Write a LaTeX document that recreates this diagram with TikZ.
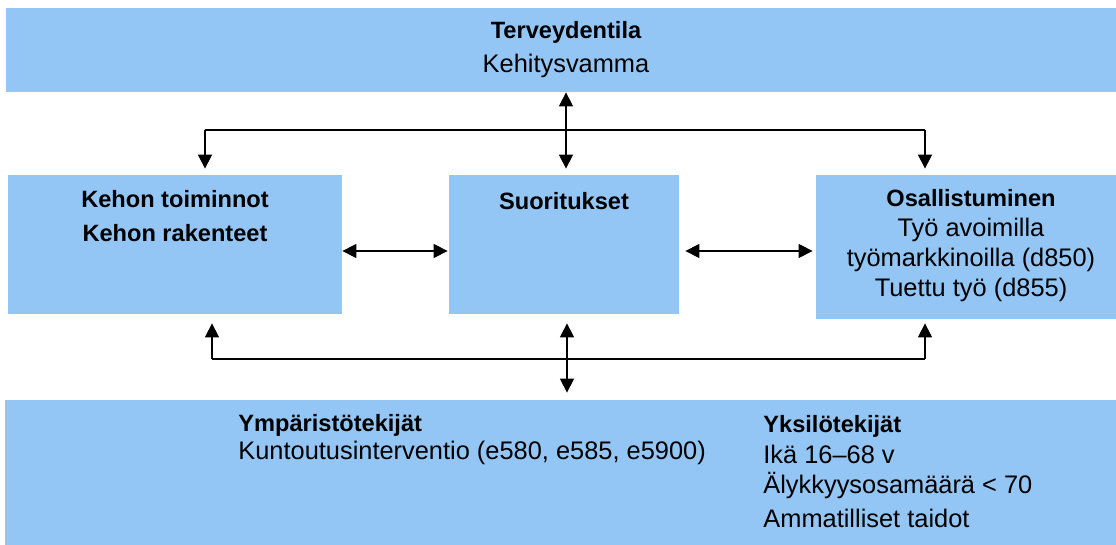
\documentclass[tikz,border=0pt]{standalone}
\usepackage{fontspec}
\setmainfont{Liberation Sans}
\usetikzlibrary{arrows.meta}
\definecolor{icfblue}{RGB}{147,197,245}
\newcommand\hd[1]{{\fontsize{11.8}{15}\selectfont\bfseries #1}}

\begin{document}
\begin{tikzpicture}[
  x=0.5pt, y=-0.5pt,
  box/.style={fill=icfblue, rectangle, inner sep=0pt},
  txt/.style={align=center, anchor=base, inner sep=0pt},
  arr/.style={-{Triangle[length=7pt,width=7pt]}, line width=0.7pt},
  dbl/.style={{Triangle[length=7pt,width=7pt]}-{Triangle[length=7pt,width=7pt]}, line width=0.7pt},
  line/.style={line width=0.7pt},
]
\useasboundingbox (0,0) rectangle (1116,545);

% boxes
\node[box, minimum width=555pt, minimum height=42pt]   (terv) at (561,50)    {};
\node[box, minimum width=167pt, minimum height=69.5pt] (kehon) at (175,244.5) {};
\node[box, minimum width=115pt, minimum height=69.5pt] (suor) at (564,244.5) {};
\node[box, minimum width=150pt, minimum height=72pt]   (osal) at (966,247)   {};
\node[box, minimum width=555.5pt, minimum height=72.5pt] (ymp) at (560.5,472.5) {};

% texts (anchored at the baseline of the last line)
\node[txt, font=\fontsize{12.7}{17}\selectfont] (tervtxt) at (566,73)
  {\hd{Terveydentila}\\Kehitysvamma};
\node[txt, font=\fontsize{12.7}{17}\selectfont] (kehontxt) at (175,242)
  {\hd{Kehon toiminnot}\\\hd{Kehon rakenteet}};
\node[txt, font=\fontsize{12.7}{15}\selectfont] (suortxt) at (564,210)
  {\hd{Suoritukset}};
\node[txt, font=\fontsize{12.7}{15}\selectfont] (osaltxt) at (971,297)
  {\hd{Osallistuminen}\\Työ avoimilla\\työmarkkinoilla (d850)\\Tuettu työ (d855)};
\node[txt, anchor=base west, align=left, font=\fontsize{12.7}{14}\selectfont] (ymptxt) at (238,460)
  {\hd{Ympäristötekijät}\\Kuntoutusinterventio (e580, e585, e5900)};
\node[txt, anchor=base west, align=left, font=\fontsize{12.7}{15.2}\selectfont] (ykstxt) at (763,528)
  {\hd{Yksilötekijät}\\Ikä 16–68 v\\Älykkyysosamäärä < 70\\[2pt]Ammatilliset taidot};

% connectors
\coordinate (tl) at (205,130);
\coordinate (tm) at (566,130);
\coordinate (tr) at (925,130);
\coordinate (bl) at (212,359);
\coordinate (bm) at (567,359);
\coordinate (br) at (925,359);

\draw[dbl, shorten >=3pt] (tm |- terv.south) -- (tm |- suor.north);
\draw[line] (tl) -- (tr);
\draw[arr, shorten >=3pt] (tl) -- (tl |- kehon.north);
\draw[arr, shorten >=3pt] (tr) -- (tr |- osal.north);

\draw[dbl, shorten >=0.5pt] ([yshift=-3.25pt]kehon.east) -- ([yshift=-3.25pt]suor.west);
\draw[dbl, shorten <=3pt, shorten >=1.5pt] ([yshift=-3.25pt]suor.east) -- ([yshift=-3.25pt]suor.east -| osal.west);

\draw[line] (bl) -- (br);
\draw[arr, shorten >=4.5pt] (bl) -- (bl |- kehon.south);
\draw[arr, shorten >=2pt] (br) -- (br |- osal.south);
\draw[dbl, shorten <=4.5pt, shorten >=3.5pt] (bm |- suor.south) -- (bm |- ymp.north);
\end{tikzpicture}
\end{document}
